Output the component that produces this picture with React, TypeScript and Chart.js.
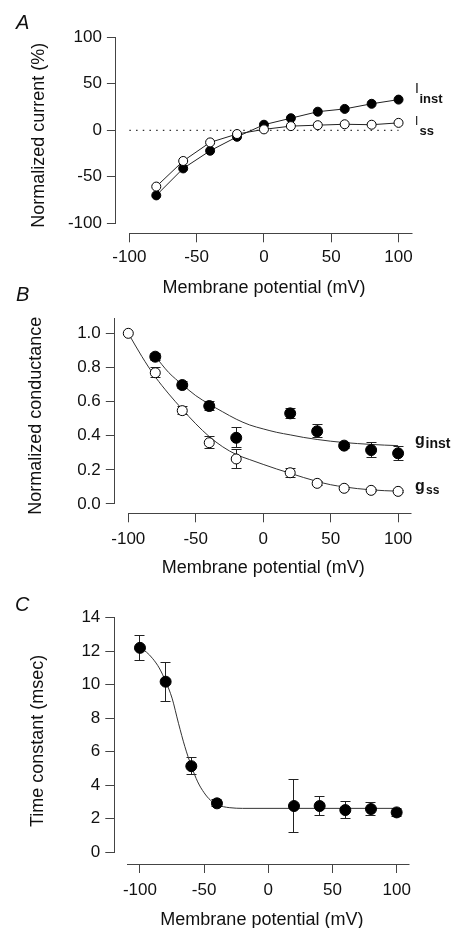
import React, { useEffect, useRef } from 'react';
import { Chart, registerables } from 'chart.js';

Chart.register(...registerables);

const FONT = '"Liberation Sans", Arial, Helvetica, sans-serif';
const TEXT = '#111111';
const AXIS = '#444444';
const LINE = '#222222';

// ---------- Panel A: normalized current ----------
const voltsA = [-80, -60, -40, -20, 0, 20, 40, 60, 80, 100];
const iInst = [-70, -41, -22, -7, 6, 13, 20, 23, 28.5, 33];
const iSs = [-60.5, -33, -13, -4, 1, 4.5, 5.5, 6.5, 6, 8];
const zeroLineV = [-100, 100];
const zeroLineY = [0, 0];
const ticksXA = [-100, -50, 0, 50, 100];
const ticksYA = [-100, -50, 0, 50, 100];

// ---------- Panel B: normalized conductance ----------
const voltsBInst = [-80, -60, -40, -20, 20, 40, 60, 80, 100];
const gInst = [0.863, 0.697, 0.574, 0.388, 0.531, 0.426, 0.342, 0.316, 0.297];
const gInstErr = [0.02, 0.02, 0.025, 0.058, 0.03, 0.038, 0.017, 0.042, 0.042];
const voltsBSs = [-100, -80, -60, -40, -20, 20, 40, 60, 80, 100];
const gSs = [1.0, 0.769, 0.547, 0.359, 0.264, 0.183, 0.121, 0.092, 0.08, 0.074];
const gSsErr = [0, 0.03, 0.022, 0.035, 0.058, 0.025, 0.01, 0.006, 0.005, 0.004];
const fitInstV = [-80, -70, -60, -50, -40, -30, -20, -10, 0, 10, 20, 30, 40, 50, 60, 70, 80, 90, 100];
const fitInstG = [0.865, 0.77, 0.7, 0.635, 0.585, 0.54, 0.497, 0.463, 0.44, 0.42, 0.405, 0.39, 0.378, 0.368, 0.36, 0.354, 0.349, 0.345, 0.342];
const fitSsV = [-100, -90, -80, -70, -60, -50, -40, -30, -20, -10, 0, 10, 20, 30, 40, 50, 60, 70, 80, 90, 100];
const fitSsG = [1.0, 0.865, 0.745, 0.645, 0.555, 0.47, 0.395, 0.335, 0.29, 0.26, 0.232, 0.205, 0.18, 0.155, 0.132, 0.113, 0.1, 0.09, 0.083, 0.078, 0.075];
const ticksXB = [-100, -50, 0, 50, 100];
const ticksYB = [0, 0.2, 0.4, 0.6, 0.8, 1.0];

// ---------- Panel C: time constant ----------
const voltsC = [-100, -80, -60, -40, 20, 40, 60, 80, 100];
const tau = [12.2, 10.18, 5.14, 2.92, 2.76, 2.76, 2.52, 2.58, 2.38];
const tauErr = [0.75, 1.17, 0.52, 0.2, 1.6, 0.57, 0.49, 0.37, 0.25];
const fitCV = [-100, -95, -90, -85, -80, -75, -70, -65, -60, -55, -50, -45, -40, -35, -30, -25, -20, 100];
const fitCT = [12.2, 11.95, 11.55, 11.0, 10.2, 9.2, 7.7, 6.3, 5.15, 4.2, 3.55, 3.1, 2.85, 2.72, 2.66, 2.63, 2.62, 2.62];
const ticksXC = [-100, -50, 0, 50, 100];
const ticksYC = [0, 2, 4, 6, 8, 10, 12, 14];

const pts = (xs: number[], ys: number[]) => xs.map((x, i) => ({ x, y: ys[i] }));

const alignPx = (p: number) => Math.round(p - 0.5) + 0.5;

const axesPlugin = {
  id: 'detachedAxes',
  beforeDatasetsDraw(chart: any, _args: any, opts: any) {
    const { ctx, chartArea, scales } = chart;
    const xs = scales.x;
    const ys = scales.y;
    ctx.save();
    ctx.strokeStyle = AXIS;
    ctx.lineWidth = 1;
    ctx.beginPath();
    const ax = alignPx(chartArea.left);
    ctx.moveTo(ax, alignPx(ys.getPixelForValue(opts.y0)) + 0.5);
    ctx.lineTo(ax, alignPx(ys.getPixelForValue(opts.y1)) - 0.5);
    const ay = alignPx(chartArea.bottom);
    ctx.moveTo(alignPx(xs.getPixelForValue(opts.x0)) - 0.5, ay);
    ctx.lineTo(alignPx(xs.getPixelForValue(opts.x1)), ay);
    ctx.stroke();
    ctx.restore();
  },
};

const errorPlugin = {
  id: 'errorBars',
  beforeDatasetsDraw(chart: any, _args: any, opts: any) {
    const { ctx, scales } = chart;
    const xs = scales.x;
    const ys = scales.y;
    const cap = opts.cap || 5;
    chart.data.datasets.forEach((ds: any) => {
      if (!ds.errors) return;
      ctx.save();
      ctx.strokeStyle = '#222';
      ctx.lineWidth = 1;
      ds.data.forEach((p: any, i: number) => {
        const e = ds.errors[i];
        if (!e) return;
        const px = alignPx(xs.getPixelForValue(p.x));
        const yt = alignPx(ys.getPixelForValue(p.y + e));
        const yb = alignPx(ys.getPixelForValue(p.y - e));
        ctx.beginPath();
        ctx.moveTo(px, yt);
        ctx.lineTo(px, yb);
        ctx.moveTo(px - cap, yt);
        ctx.lineTo(px + cap, yt);
        ctx.moveTo(px - cap, yb);
        ctx.lineTo(px + cap, yb);
        ctx.stroke();
      });
      ctx.restore();
    });
  },
};

type Spec = {
  xMin: number; xMax: number; yMin: number; yMax: number;
  xTicks: number[]; yTicks: number[]; yFmt: (v: number) => string;
  yAxisWidth: number; xAxisHeight: number; padTop: number; padRight: number;
  xTickPad: number; xTitlePad: number; yTitlePad: number; yTitle: string;
  axes: { x0: number; x1: number; y0: number; y1: number };
  datasets: any[];
};

function buildConfig(s: Spec): any {
  return {
    type: 'scatter',
    data: { datasets: s.datasets },
    plugins: [axesPlugin, errorPlugin],
    options: {
      responsive: false,
      animation: false,
      events: [],
      layout: { padding: { top: s.padTop, right: s.padRight, left: 0, bottom: 0 } },
      plugins: {
        legend: { display: false },
        tooltip: { enabled: false },
        detachedAxes: s.axes,
        errorBars: { cap: 5 },
      },
      scales: {
        x: {
          type: 'linear',
          min: s.xMin,
          max: s.xMax,
          afterBuildTicks: (sc: any) => { sc.ticks = s.xTicks.map((v) => ({ value: v })); },
          afterFit: (sc: any) => { sc.height = s.xAxisHeight; },
          grid: { display: true, drawOnChartArea: false, drawTicks: true, tickLength: 9, color: AXIS, lineWidth: 1 },
          border: { display: false },
          ticks: {
            autoSkip: false, maxRotation: 0, padding: s.xTickPad,
            font: { family: FONT, size: 17 }, color: TEXT,
            callback: (v: any) => String(v),
          },
          title: {
            display: true, text: 'Membrane potential (mV)', color: TEXT,
            font: { family: FONT, size: 18, lineHeight: 1 },
            padding: { top: 0, bottom: s.xTitlePad },
          },
        },
        y: {
          type: 'linear',
          min: s.yMin,
          max: s.yMax,
          afterBuildTicks: (sc: any) => { sc.ticks = s.yTicks.map((v) => ({ value: v })); },
          afterFit: (sc: any) => { sc.width = s.yAxisWidth; },
          grid: { display: true, drawOnChartArea: false, drawTicks: true, tickLength: 9, color: AXIS, lineWidth: 1 },
          border: { display: false },
          ticks: {
            autoSkip: false, padding: 5,
            font: { family: FONT, size: 17 }, color: TEXT,
            callback: (v: any) => s.yFmt(Number(v)),
          },
          title: {
            display: true, text: s.yTitle, color: TEXT,
            font: { family: FONT, size: 18, lineHeight: 1 },
            padding: { top: s.yTitlePad, bottom: 0 },
          },
        },
      },
    },
  };
}

const filled = (r: number) => ({ pointRadius: r, pointBackgroundColor: '#000', pointBorderColor: '#000', pointBorderWidth: 1 });
const open = (r: number) => ({ pointRadius: r, pointBackgroundColor: '#fff', pointBorderColor: '#000', pointBorderWidth: 1 });

const specA: Spec = {
  xMin: -110, xMax: 110, yMin: -110.75, yMax: 100,
  xTicks: ticksXA, yTicks: ticksYA, yFmt: (v) => String(v),
  yAxisWidth: 115.9, xAxisHeight: 66.7, padTop: 37.3, padRight: 49,
  xTickPad: 5, xTitlePad: 3, yTitlePad: 30, yTitle: 'Normalized current (%)',
  axes: { x0: -100, x1: 110, y0: -100, y1: 100 },
  datasets: [
    { label: 'Iss', data: pts(voltsA, iSs), showLine: true, borderColor: LINE, borderWidth: 1, tension: 0, clip: false, ...open(4.5) },
    { label: 'Iinst', data: pts(voltsA, iInst), showLine: true, borderColor: LINE, borderWidth: 1, tension: 0, clip: false, ...filled(4.5) },
    { label: 'zero', data: pts(zeroLineV, zeroLineY), showLine: true, borderColor: '#333', borderWidth: 1.3, borderDash: [1.5, 5.2], pointRadius: 0, clip: false },
  ],
};

const specB: Spec = {
  xMin: -110, xMax: 110, yMin: -0.0545, yMax: 1.088,
  xTicks: ticksXB, yTicks: ticksYB, yFmt: (v) => v.toFixed(1),
  yAxisWidth: 114.8, xAxisHeight: 66.7, padTop: 18.3, padRight: 49.4,
  xTickPad: 6.5, xTitlePad: 3, yTitlePad: 27, yTitle: 'Normalized conductance',
  axes: { x0: -100, x1: 110, y0: 0, y1: 1.088 },
  datasets: [
    { label: 'ginst', data: pts(voltsBInst, gInst), errors: gInstErr, showLine: false, clip: false, ...filled(5.5) },
    { label: 'gss', data: pts(voltsBSs, gSs), errors: gSsErr, showLine: false, clip: false, ...open(5) },
    { label: 'ginst fit', data: pts(fitInstV, fitInstG), showLine: true, borderColor: '#333', borderWidth: 1, pointRadius: 0, cubicInterpolationMode: 'monotone', clip: false },
    { label: 'gss fit', data: pts(fitSsV, fitSsG), showLine: true, borderColor: '#333', borderWidth: 1, pointRadius: 0, cubicInterpolationMode: 'monotone', clip: false },
  ],
};

const specC: Spec = {
  xMin: -120, xMax: 110, yMin: -0.7, yMax: 14,
  xTicks: ticksXC, yTicks: ticksYC, yFmt: (v) => String(v),
  yAxisWidth: 114.3, xAxisHeight: 64, padTop: 37.7, padRight: 51.5,
  xTickPad: 6.8, xTitlePad: -1, yTitlePad: 29, yTitle: 'Time constant (msec)',
  axes: { x0: -110, x1: 110, y0: 0, y1: 14 },
  datasets: [
    { label: 'tau', data: pts(voltsC, tau), errors: tauErr, showLine: false, clip: false, ...filled(5.5) },
    { label: 'tau fit', data: pts(fitCV, fitCT), showLine: true, borderColor: '#333', borderWidth: 1, pointRadius: 0, cubicInterpolationMode: 'monotone', clip: false },
  ],
};

function Panel({ top, height, spec }: { top: number; height: number; spec: Spec }) {
  const ref = useRef<HTMLCanvasElement>(null);
  useEffect(() => {
    const chart = new Chart(ref.current as HTMLCanvasElement, buildConfig(spec));
    return () => chart.destroy();
  }, []);
  return (
    <canvas
      ref={ref}
      width={461}
      height={height}
      style={{ position: 'absolute', left: 0, top, width: 461, height }}
    />
  );
}

const lbl = (left: number, top: number, size: number, bold: boolean, italic = false): React.CSSProperties => ({
  position: 'absolute', left, top, fontSize: size, lineHeight: `${size}px`,
  fontFamily: FONT, fontWeight: bold ? 700 : 400, fontStyle: italic ? 'italic' : 'normal',
  color: TEXT, whiteSpace: 'nowrap',
});

export default function App() {
  return (
    <div style={{ position: 'absolute', left: 0, top: 0, width: 461, height: 928, background: '#fff', overflow: 'hidden' }}>
      <Panel top={0} height={300} spec={specA} />
      <Panel top={300} height={280} spec={specB} />
      <Panel top={580} height={348} spec={specC} />

      <div style={lbl(16, 12, 20, false, true)}>A</div>
      <div style={lbl(16, 284, 20, false, true)}>B</div>
      <div style={lbl(15, 594, 20, false, true)}>C</div>

      <div style={lbl(415, 81, 14, false)}>I</div>
      <div style={lbl(419.5, 92, 13, true)}>inst</div>
      <div style={lbl(415, 114.5, 12, false)}>I</div>
      <div style={lbl(419.5, 124, 13, true)}>ss</div>

      <div style={lbl(415, 431.5, 16, true)}>g</div>
      <div style={lbl(425.5, 436, 14, true)}>inst</div>
      <div style={lbl(415, 477.5, 16, true)}>g</div>
      <div style={lbl(426, 484, 12, true)}>ss</div>
    </div>
  );
}
